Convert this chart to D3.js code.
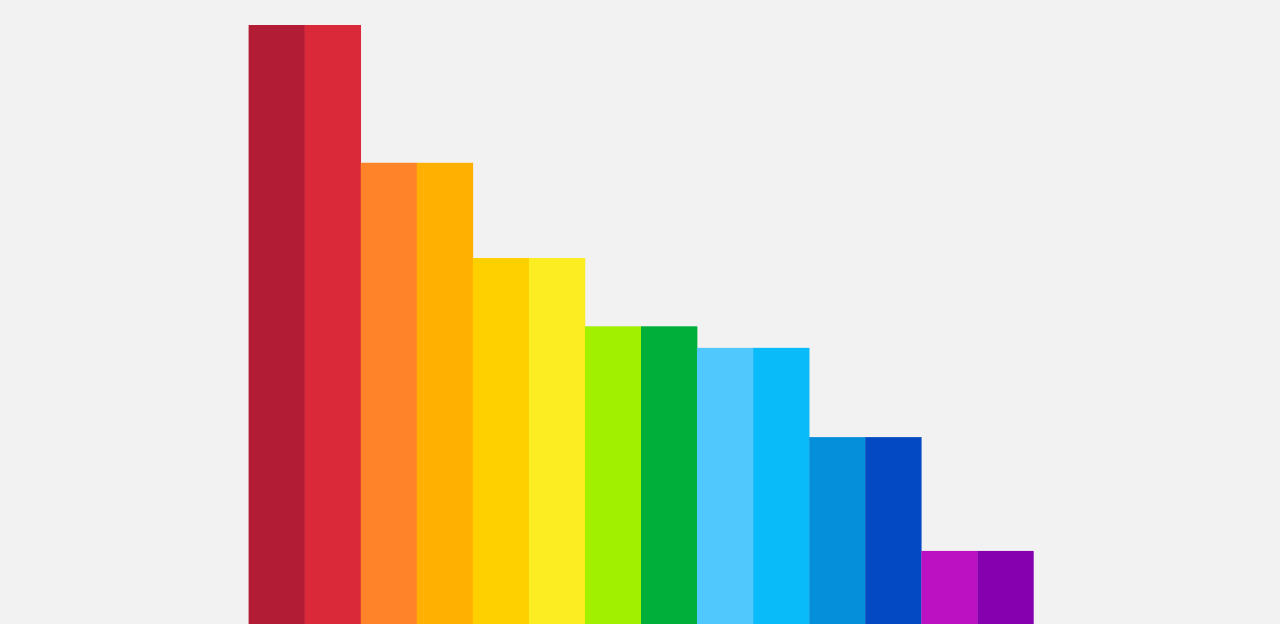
<!DOCTYPE html>
<html>
<head>
<meta charset="utf-8">
<script src="https://cdn.jsdelivr.net/npm/d3@7"></script>
<style>
  html, body { margin: 0; padding: 0; background: #f2f2f2; overflow: hidden; }
</style>
</head>
<body>
<div id="output"></div>
<script>
// one entry per bar, left to right
const categories = ["crimson", "red", "orange", "amber", "gold", "yellow", "lime",
    "green", "sky", "cyan", "azure", "blue", "magenta", "violet"];
const values = [100, 100, 77, 77, 61.1, 61.1, 49.7, 49.7, 46.1, 46.1, 31.2, 31.2, 12.2, 12.2];
const colors = ["#b31c35", "#da2939", "#ff8429", "#ffb000", "#ffd000", "#fcec22", "#a0f000",
    "#00af3a", "#50c8fe", "#09bbf9", "#058ed9", "#0349c3", "#bb11c3", "#8700b0"];

function draw() {
    document.getElementById('output').innerHTML = '';
    const w = 1280;
    const h = 624;

    const svg = d3.select("#output").append("svg")
        .attr("width", w)
        .attr("height", h)
        .style("display", "block");

    svg.append("rect")
        .attr("width", w)
        .attr("height", h)
        .style("fill", "#f2f2f2");

    const x = d3.scaleBand()
        .domain(categories)
        .range([248.6, 1033.4])
        .padding(0);

    const y = d3.scaleLinear()
        .domain([0, 100])
        .range([h, 25]);

    svg.append("g")
        .selectAll("rect")
        .data(categories)
        .join("rect")
        .attr("x", d => x(d))
        .attr("width", x.bandwidth() + 0.3)
        .attr("y", (d, i) => y(values[i]))
        .attr("height", (d, i) => h - y(values[i]))
        .style("fill", (d, i) => colors[i]);
}

draw();
</script>
</body>
</html>
